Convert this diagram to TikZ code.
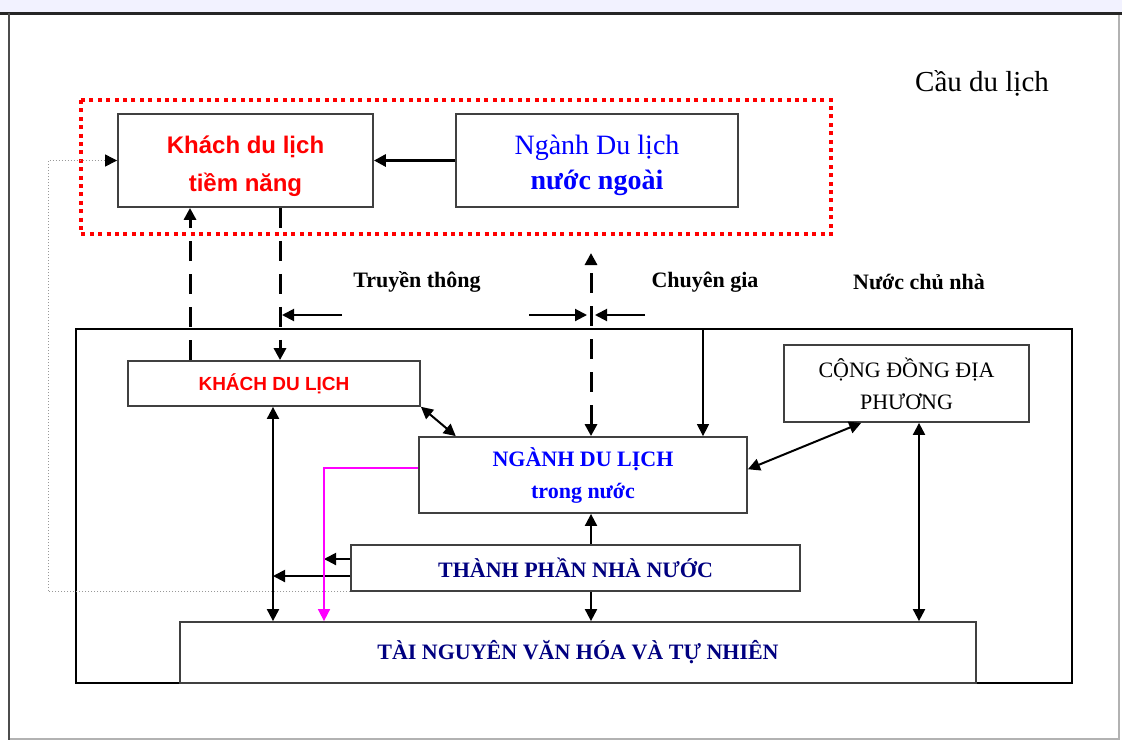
\documentclass[tikz,border=0pt]{standalone}
\usepackage{fontspec}
\setmainfont{Liberation Serif}
\newfontfamily\arialfont{Liberation Sans}
\usepackage{tikz}
\usetikzlibrary{arrows.meta}

\definecolor{navyblue}{RGB}{0,0,128}
\definecolor{pinkmag}{RGB}{255,0,255}

\tikzset{
  box/.style={draw=black!75, line width=0.9pt, fill=white, inner sep=0pt, align=center},
  reddot/.style={draw=red, line width=2pt, dash pattern=on 2pt off 2.2pt},
  dashline/.style={line width=1.5pt, dash pattern=on 10pt off 6.5pt},
  thickarr/.style={line width=1.5pt},
  medarr/.style={line width=1pt},
  thinarr/.style={line width=0.6pt},
  greydot/.style={draw=gray!80, line width=0.5pt, densely dotted},
  pinkline/.style={draw=pinkmag, line width=0.8pt},
  cautxt/.style={font=\fontsize{14.5}{17}\selectfont},
  toptxt/.style={font=\bfseries\fontsize{11}{13}\selectfont},
  redbig/.style={text=red, font=\arialfont\bfseries\fontsize{12}{19}\selectfont},
  bluebig/.style={text=blue, font=\fontsize{14}{17.5}\selectfont},
  redsmall/.style={text=red, font=\arialfont\bfseries\fontsize{9.5}{11}\selectfont},
  bluecap/.style={text=blue, font=\bfseries\fontsize{11}{16}\selectfont},
  plaincap/.style={font=\fontsize{11}{16}\selectfont},
  navycap/.style={text=navyblue, font=\bfseries\fontsize{11}{13}\selectfont}
}

\begin{document}
\begin{tikzpicture}[x=0.5pt,y=-0.5pt,>={Triangle[length=6pt,width=6pt]}]
\useasboundingbox (0,0) rectangle (1122,740);

% khung
\fill[blue!5] (0,0) rectangle (1122,12);
\draw[gray!60, line width=0.6pt] (9,13) rectangle (1119,739);
\draw[black!85, line width=1.5pt] (0,13) -- (1122,13);
\draw[black!70, line width=1pt] (9,13) -- (9,740);

\node[cautxt] (cau) at (982,83) {Cầu du lịch};

% cau du lich
\draw[reddot] (81,100) rectangle (831,234);
\node[box, redbig, minimum width=127.5pt, minimum height=46.5pt] (ktn) at (245.5,160.5) {\rule{0pt}{15pt}Khách du lịch\\tiềm năng};
\node[box, bluebig, minimum width=141pt, minimum height=46.5pt] (nnn) at (597,160.5) {\rule{0pt}{15pt}Ngành Du lịch\\\textbf{nước ngoài}};

\node[toptxt] (tt) at (417,282) {Truyền thông};
\node[toptxt] (cg) at (705,282) {Chuyên gia};
\node[toptxt] (ncn) at (919,282) {Nước chủ nhà};

% nuoc chu nha
\draw[line width=1pt] (76,329) rectangle (1072,683);
\node[box, redsmall, minimum width=146pt, minimum height=22.5pt] (kdl) at (274,383.5) {KHÁCH DU LỊCH};
\node[box, bluecap, minimum width=164pt, minimum height=38pt] (ndl) at (583,475) {NGÀNH DU LỊCH\\trong nước};
\node[box, plaincap, minimum width=122.5pt, minimum height=38.5pt] (cd) at (906.5,383.5) {CỘNG ĐỒNG ĐỊA\\PHƯƠNG};
\node[box, navycap, minimum width=224.5pt, minimum height=23pt] (tpnn) at (575.5,568) {THÀNH PHẦN NHÀ NƯỚC};
\node[box, navycap, minimum width=398pt, minimum height=30.5pt] (tn) at (578,652.5) {TÀI NGUYÊN VĂN HÓA VÀ TỰ NHIÊN};

\coordinate (gl) at (48,0);
\coordinate (xa) at (190,0);
\coordinate (xb) at (280,0);
\coordinate (xc) at (591,0);
\coordinate (xd) at (919,0);
\coordinate (xe) at (273,0);
\coordinate (pk) at (324,0);
\coordinate (hosttop) at (703,329);
\coordinate (ngtop) at (591,253);
\coordinate (tt1) at (342,315);
\coordinate (tt2) at (282,315);
\coordinate (cg1) at (529,315);
\coordinate (cg2) at (587,315);
\coordinate (cg3) at (645,315);
\coordinate (cg4) at (595,315);
\coordinate (s1) at ([yshift=4.5pt]tpnn.west);
\coordinate (s2) at ([yshift=-4pt]tpnn.west);
\coordinate (p1) at ([yshift=3.5pt]ndl.west);

\draw[thickarr,->] (nnn.west) -- (ktn.east);
\draw[greydot,-{Triangle[length=6pt,width=6pt,color=black]}] (tpnn.south west) -| (ktn.west -| gl) -- (ktn.west);

\draw[dashline,->] (kdl.north -| xa) -- (ktn.south -| xa);
\draw[dashline,->] (ktn.south -| xb) -- (kdl.north -| xb);
\draw[dashline,<->] (ndl.north -| xc) -- (ngtop);

\draw[medarr,->] (tt1) -- (tt2);
\draw[medarr,->] (cg1) -- (cg2);
\draw[medarr,->] (cg3) -- (cg4);
\draw[thinarr,->] (hosttop) -- (ndl.north -| hosttop);

\draw[medarr,<->] (kdl.-9.6) -- (ndl.163.8);
\draw[medarr,<->] (ndl.2.8) -- (cd.221.5);
\draw[medarr,<->] (cd.south -| xd) -- (tn.north -| xd);
\draw[medarr,<->] (kdl.south -| xe) -- (tn.north -| xe);

\draw[medarr,->] (tpnn.north -| xc) -- (ndl.south -| xc);
\draw[medarr,->] (tpnn.south -| xc) -- (tn.north -| xc);
\draw[medarr,->] (s1) -- (s1 -| pk);
\draw[medarr,->] (s2) -- (s2 -| xe);

\draw[pinkline,-{Triangle[length=6pt,width=6pt]}] (p1) -| (tn.north -| pk);

\end{tikzpicture}
\end{document}
